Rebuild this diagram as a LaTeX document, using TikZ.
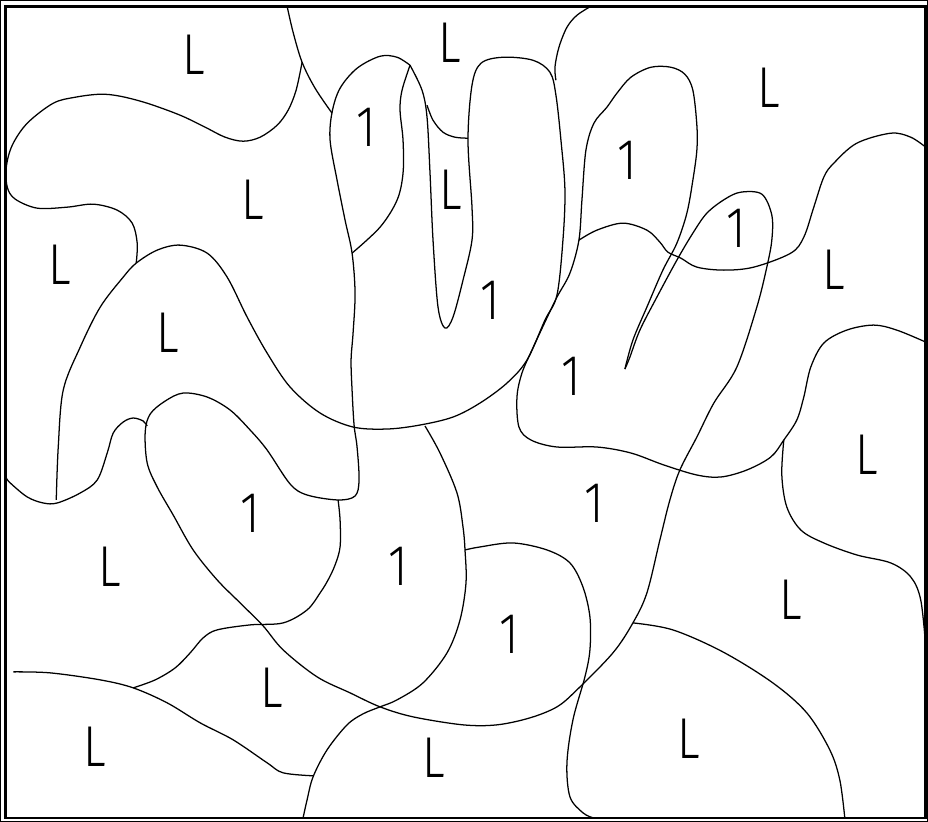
\documentclass[tikz,border=0pt]{standalone}
\usepackage{fontspec}
\usepackage{tikz}
\usetikzlibrary{positioning}
\newfontfamily\lblfont{Fira Sans Light}
\tikzset{
  every picture/.style={draw=black, text=black},
  every path/.style={draw=black},
  outline/.style={line width=0.9pt, line join=round},
  frame/.style={line width=1.8pt},
  lbl/.style={font=\lblfont\fontsize{41}{41}\selectfont, inner sep=0pt, xscale=0.82},
}

\begin{document}
\begin{tikzpicture}[x=0.025cm, y=-0.025cm]
\useasboundingbox (0,0) rectangle (928,821);
% Frame
\draw[frame] (5,6) rectangle (926,818);
% Top left
\draw[outline] plot[smooth, tension=0.55] coordinates {(287,6) (293,32) (302,62) (315,88) (332,113)};
\draw[outline] plot[smooth, tension=0.55] coordinates {(302,62) (296,90) (288,110) (277,125) (260,137) (243,141) (225,137) (205,127) (180,115) (147,103) (120,96) (100,94) (75,97) (53,103) (27,123) (12,145) (6,167) (7,187) (15,199) (37,208) (67,207) (93,204) (117,210) (132,223) (137,243) (136,263)};
% Blob and fingers
\draw[outline] plot[smooth, tension=0.55] coordinates {(56,500) (58,447) (63,390) (80,347) (100,307) (123,277) (136,263) (157,250) (180,245) (207,253) (227,277) (247,317) (267,353) (290,387) (320,413) (353,427) (387,429) (420,425) (453,417) (480,403) (507,383) (527,360) (545,320) (557,295) (563,240) (565,190) (561,140) (556,95) (550,72) (533,60) (503,57) (481,63) (472,85) (468,140) (472,207) (472,240) (463,280) (453,317) (445,328) (438,307) (433,240) (430,173) (427,117) (422,90) (410,65)};
\draw[outline] plot[smooth, tension=0.55] coordinates {(427,105) (433,120) (443,132) (455,137) (468,138)};
\draw[outline] plot[smooth, tension=0.55] coordinates {(410,65) (402,90) (400,110) (403,140) (403,173) (397,200) (380,227) (352,253)};
% Long stroke
\draw[outline] plot[smooth, tension=0.55] coordinates {(410,65) (397,57) (380,56) (357,68) (340,88) (332,112) (330,140) (337,180) (345,220) (352,253) (355,293) (353,333) (351,360) (352,390) (354,425) (357,447) (359,480) (355,496) (338,500) (307,495) (290,484) (267,450) (250,430) (230,410) (207,397) (183,393) (165,401) (150,414) (145,432) (147,463) (157,487) (173,515) (193,550) (217,580) (240,603) (263,626) (283,650) (317,677) (350,693) (380,707) (413,717) (463,725) (497,725) (530,718) (557,707) (577,690) (613,653) (633,623) (647,593) (660,540) (670,500) (680,470) (697,437) (714,403) (737,367) (757,307) (767,267) (772,240) (772,215) (762,194) (741,192) (725,199) (707,213) (693,233) (677,260) (657,297) (640,330) (630,357) (625,369)};
% Top right
\draw[outline] plot[smooth, tension=0.55] coordinates {(591,6) (577,15) (567,27) (559,47) (555,67) (556,80)};
\draw[outline] plot[smooth, tension=0.55] coordinates {(625,369) (633,340) (647,307) (663,270) (677,243) (687,213) (693,180) (697,150) (697,125) (693,90) (685,74) (671,67) (651,67) (631,77) (617,93) (607,107) (594,123) (586,150) (582,200) (579,240) (570,273) (557,297) (545,322) (532,350) (522,373) (517,397) (519,427) (531,440) (557,447) (597,447) (631,453) (664,465) (697,475) (721,477) (747,470) (771,457) (784,440) (797,420) (804,397) (811,367) (824,343) (847,330) (874,325) (897,330) (926,342)};
\draw[outline] plot[smooth, tension=0.55] coordinates {(579,240) (597,230) (623,223) (647,230) (660,242) (668,252) (681,258) (697,267) (724,270) (754,267) (791,253) (804,237) (814,207) (824,177) (834,163) (857,143) (891,133) (911,137) (926,147)};
\draw[outline] plot[smooth, tension=0.55] coordinates {(784,440) (782,475) (787,507) (801,530) (824,543) (857,555) (891,563) (911,577) (921,600) (926,647)};
% Lower middle
\draw[outline] plot[smooth, tension=0.55] coordinates {(425,426) (440,453) (457,493) (463,527) (465,550) (466,583) (460,620) (447,653) (423,683) (397,700) (380,707) (363,714) (347,725) (327,750) (313,777) (307,800) (303,818)};
\draw[outline] plot[smooth, tension=0.55] coordinates {(465,550) (480,547) (513,543) (547,550) (570,563) (583,587) (590,617) (590,650) (585,677) (573,720) (567,763) (570,797) (583,813) (593,818)};
\draw[outline] plot[smooth, tension=0.55] coordinates {(633,623) (673,630) (723,652) (773,683) (807,713) (830,750) (840,780) (845,818)};
% Lower left
\draw[outline] plot[smooth, tension=0.55] coordinates {(338,500) (340,520) (340,547) (335,565) (328,580) (320,593) (307,610) (283,623) (250,625) (217,630) (203,638) (190,653) (175,668) (155,680) (133,688)};
\draw[outline] plot[smooth, tension=0.55] coordinates {(13,672) (50,673) (100,680) (133,688) (167,703) (200,723) (233,740) (267,763) (283,773) (313,776)};
\draw[outline] plot[smooth, tension=0.55] coordinates {(6,478) (10,483) (27,497) (43,503) (57,503) (80,493) (97,480) (107,453) (113,433) (123,422) (133,418) (143,421) (147,426)};
% Labels
\node[lbl] (lA) at (194,55) {L};
\node[lbl] (lB) at (450,43) {L};
\node[lbl] (oA) at (366,127) {1};
\node[lbl] (lC) at (253,200) {L};
\node[lbl] (lD) at (451,190) {L};
\node[lbl] (lE) at (60,265) {L};
\node[lbl] (lF) at (168,333) {L};
\node[lbl] (oB) at (490,300) {1};
\node[lbl] (oC) at (627,160) {1};
\node[lbl] (lG) at (769,88) {L};
\node[lbl] (oD) at (736,228) {1};
\node[lbl] (lH) at (834,270) {L};
\node[lbl] (oE) at (571,376) {1};
\node[lbl] (lI) at (867,455) {L};
\node[lbl] (oF) at (594,503) {1};
\node[lbl] (oG) at (250,513) {1};
\node[lbl] (lJ) at (110,567) {L};
\node[lbl] (oH) at (398,566) {1};
\node[lbl] (lK) at (791,600) {L};
\node[lbl] (oI) at (509,634) {1};
\node[lbl] (lL) at (272,688) {L};
\node[lbl] (lM) at (689,739) {L};
\node[lbl] (lN) at (95,747) {L};
\node[lbl] (lO) at (434,758) {L};
\end{tikzpicture}
\end{document}
